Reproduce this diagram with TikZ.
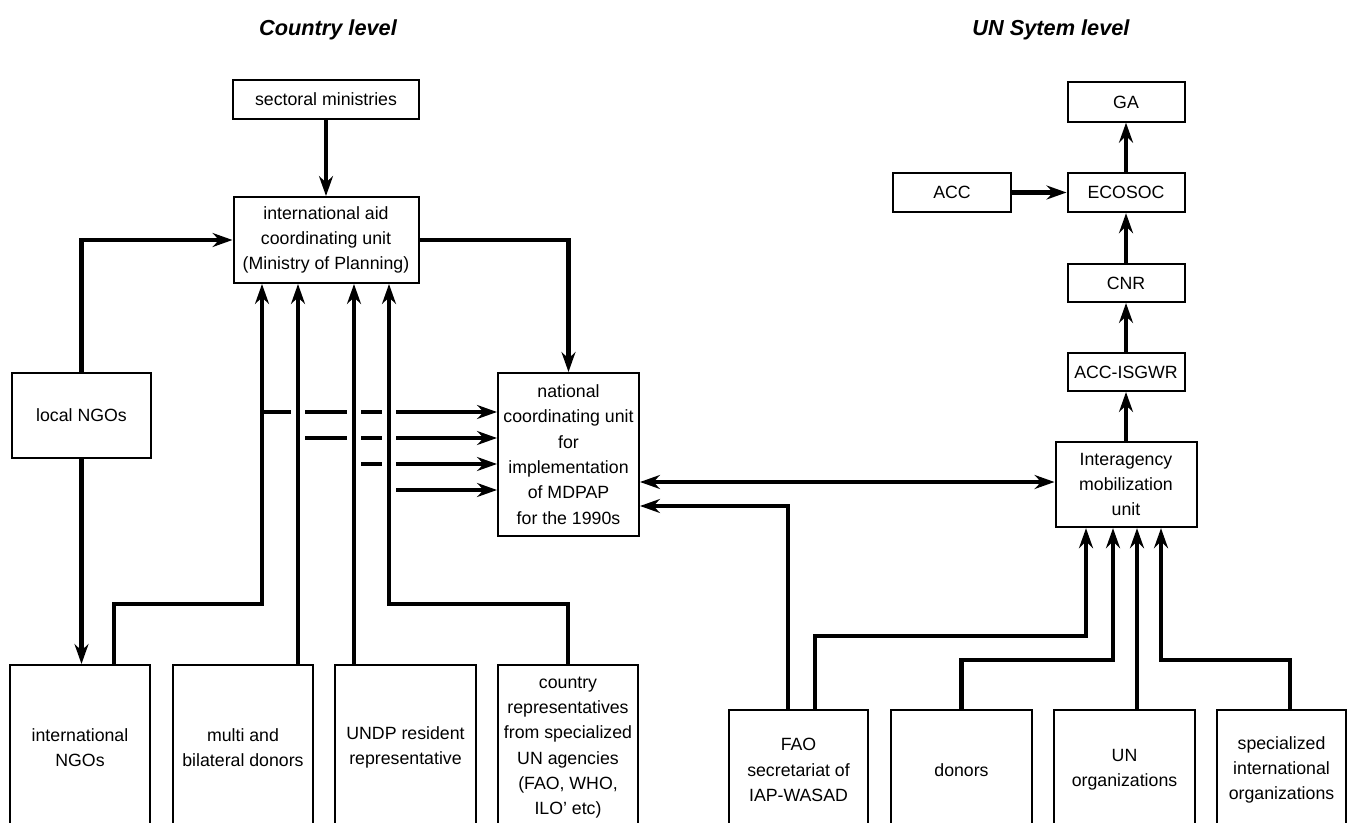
\documentclass[tikz,border=0pt]{standalone}
\usepackage{fontspec}
\setmainfont{Liberation Sans}
\usetikzlibrary{arrows.meta}
\newcommand{\boxfont}{\fontsize{13.3pt}{19pt}\selectfont}
\newcommand{\headfont}{\fontsize{16.3pt}{19pt}\selectfont\bfseries\itshape}

\begin{document}
\begin{tikzpicture}[x=0.75pt, y=-0.75pt, line width=3.6pt,
    >={Stealth[length=15pt,width=10.5pt,inset=5pt]}] % 1 unit = 1 px
  \tikzstyle{unit}=[draw, line width=1.5pt, align=center, inner sep=1pt, font=\boxfont]
  \tikzstyle{bridge}=[white, line width=10.5pt]

  \useasboundingbox (0,0) rectangle (1348,823);

  \node (head1) at (328,30) {\headfont Country level};
  \node (head2) at (1051,30) {\headfont UN Sytem level};

  % country level
  \node[unit, minimum width=139.5pt, minimum height=29.25pt] (sectoral) at (326,99.5) {sectoral ministries};
  \node[unit, minimum width=138.75pt, minimum height=64.5pt] (aid) at (326,240)
    {international aid\\coordinating unit\\(Ministry of Planning)};
  \node[unit, minimum width=104.25pt, minimum height=63.75pt] (localngo) at (81.5,415.5) {local NGOs};
  \node[unit, minimum width=105.75pt, minimum height=122.25pt] (national) at (568.5,454.5)
    {national\\coordinating unit\\for\\implementation\\of MDPAP\\for the 1990s};
  \node[unit, minimum width=105pt, minimum height=123.75pt] (intlngo) at (80,747.5) {international\\NGOs};
  \node[unit, minimum width=105pt, minimum height=123.75pt] (donormb) at (243,747.5) {multi and\\bilateral donors};
  \node[unit, minimum width=105.75pt, minimum height=123.75pt] (undp) at (405.5,747.5) {UNDP resident\\representative};
  \node[unit, minimum width=105pt, minimum height=123.75pt] (countryrep) at (568,747.5)
    {country\\representatives\\from specialized\\UN agencies\\(FAO, WHO,\\ILO' etc)};

  % UN system level
  \node[unit, minimum width=87.75pt, minimum height=29.5pt] (ga) at (1126,102) {GA};
  \node[unit, minimum width=88.5pt, minimum height=29.5pt] (acc) at (952,192.5) {ACC};
  \node[unit, minimum width=87.75pt, minimum height=29.5pt] (ecosoc) at (1126,192.5) {ECOSOC};
  \node[unit, minimum width=87.75pt, minimum height=28.5pt] (cnr) at (1126,283) {CNR};
  \node[unit, minimum width=87.75pt, minimum height=28.5pt] (isgwr) at (1126,372) {ACC-ISGWR};
  \node[unit, minimum width=105.75pt, minimum height=64pt] (interag) at (1126,484.5)
    {Interagency\\mobilization\\unit};
  \node[unit, minimum width=104.25pt, minimum height=90pt] (fao) at (798.5,770) {FAO\\secretariat of\\IAP-WASAD};
  \node[unit, minimum width=105.75pt, minimum height=90pt] (donors) at (961.5,770) {donors};
  \node[unit, minimum width=105.75pt, minimum height=90pt] (unorg) at (1124.5,770) {UN\\organizations};
  \node[unit, minimum width=96.75pt, minimum height=90pt] (specorg) at (1281.5,770)
    {specialized\\international\\organizations};

  \coordinate (v1) at (262,0);
  \coordinate (v2) at (298,0);
  \coordinate (v3) at (354,0);
  \coordinate (v4) at (389,0);
  \coordinate (leg) at (114,0);
  \coordinate (turn) at (0,604);
  \coordinate (h1) at (0,412);
  \coordinate (h2) at (0,438);
  \coordinate (h3) at (0,464);
  \coordinate (h4) at (0,490);

  \coordinate (u1) at (1086,0);
  \coordinate (u2) at (1113,0);
  \coordinate (u3) at (1137,0);
  \coordinate (u4) at (1161,0);
  \coordinate (fa) at (788,0);
  \coordinate (fb) at (815,0);
  \coordinate (sp) at (1290,0);
  \coordinate (both) at (0,482);
  \coordinate (back) at (0,506);
  \coordinate (low1) at (0,636);
  \coordinate (low2) at (0,660);

  \draw[->] (sectoral) -- (aid);
  \draw[->] (localngo.north) |- (aid.west);
  \draw[->] (aid.east) -| (national.north);
  \draw[->] (localngo.south) -- (localngo.south |- intlngo.north);

  \draw[->] (v1 |- h1) -- (national.west |- h1);
  \draw[->] (v2 |- h2) -- (national.west |- h2);
  \draw[->] (v3 |- h3) -- (national.west |- h3);
  \draw[->] (v4 |- h4) -- (national.west |- h4);
  \foreach \v/\h in {v2/h1, v2/h2, v3/h1, v3/h2, v3/h3, v4/h1, v4/h2, v4/h3, v4/h4}
    \draw[bridge] (\v |- \h) ++(0,-8) -- ++(0,16);

  \draw[->] (intlngo.north -| leg) |- (v1 |- turn) -- (aid.south -| v1);
  \draw[->] (donormb.north -| v2) -- (aid.south -| v2);
  \draw[->] (undp.north -| v3) -- (aid.south -| v3);
  \draw[->] (countryrep.north) |- (v4 |- turn) -- (aid.south -| v4);

  \path[->] (acc) edge (ecosoc)
            (ecosoc) edge (ga)
            (cnr) edge (ecosoc)
            (isgwr) edge (cnr)
            (interag) edge (isgwr);

  \draw[<->] (national.east |- both) -- (interag.west |- both);
  \draw[->] (fao.north -| fa) |- (national.east |- back);
  \draw[->] (fao.north -| fb) |- (u1 |- low1) -- (interag.south -| u1);
  \draw[->] (donors.north) |- (u2 |- low2) -- (interag.south -| u2);
  \draw[->] (unorg.north -| u3) -- (interag.south -| u3);
  \draw[->] (specorg.north -| sp) |- (u4 |- low2) -- (interag.south -| u4);

\end{tikzpicture}
\end{document}
